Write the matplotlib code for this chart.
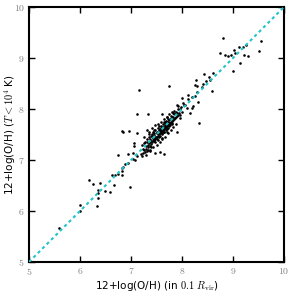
#!/usr/bin/python3

import matplotlib
matplotlib.use("Agg")
import matplotlib.pyplot as plt
from matplotlib.ticker import FuncFormatter

# Metallicity: within 0.1 Rvir (x) vs. cold gas T < 1e4 K (y)
x_sparse = [5.58, 6.00, 6.00, 6.33, 6.18, 6.26, 6.40, 6.36, 6.36, 6.49, 6.59, 6.67, 6.36, 6.98,
            6.63, 6.69, 6.74, 6.82, 6.82, 6.75, 6.95, 7.03, 7.03, 7.08, 7.11, 6.95, 6.88, 6.85, 6.82,
            7.75, 7.16, 8.29, 7.11, 8.34, 6.83, 6.85, 6.97, 7.11, 7.06, 7.05, 7.21, 7.90, 7.34, 7.31, 7.60,
            8.81, 9.54, 9.50, 9.12, 9.20, 9.25, 9.30, 9.22, 9.01, 9.04, 8.75, 8.84, 8.91, 8.97, 9.14, 8.99,
            8.44, 8.61, 8.59, 8.27, 8.25, 8.52, 8.55, 8.48, 8.42, 8.40, 8.29, 8.25, 8.31, 8.19, 8.12, 8.22,
            8.19, 7.90, 8.06, 8.16, 7.83, 7.99, 8.12, 8.09, 7.96, 7.80, 7.70, 7.67,
            7.65, 7.57, 7.47, 7.37, 7.31, 7.24]
y_sparse = [5.66, 6.12, 6.00, 6.10, 6.60, 6.52, 6.55, 6.41, 6.36, 6.39, 6.37, 6.50, 6.25, 6.47,
            6.71, 6.71, 6.72, 6.70, 6.78, 7.10, 7.12, 7.14, 7.01, 7.00, 7.08, 6.95, 6.92, 6.87, 6.84,
            8.45, 8.37, 8.45, 7.90, 7.72, 7.57, 7.54, 7.57, 7.52, 7.33, 7.28, 7.07, 7.55, 7.91, 7.59, 7.91,
            9.39, 9.33, 9.14, 9.22, 9.22, 9.25, 9.04, 9.06, 9.16, 9.09, 9.10, 9.06, 9.03, 9.06, 8.90, 8.75,
            8.68, 8.70, 8.35, 8.56, 8.47, 8.63, 8.57, 8.54, 8.49, 8.44, 8.34, 8.26, 8.14, 8.24, 8.20, 8.05,
            8.01, 8.08, 8.08, 7.93, 7.93, 8.21, 8.27, 8.01, 7.88, 7.95, 7.85, 7.75,
            7.12, 7.16, 7.13, 7.20, 7.18, 7.13]

x_dense = [7.22, 7.25, 7.28, 7.30, 7.32, 7.33, 7.35, 7.36, 7.38, 7.39, 7.40, 7.41, 7.42, 7.43, 7.44,
           7.45, 7.46, 7.47, 7.48, 7.49, 7.50, 7.51, 7.52, 7.53, 7.54, 7.55, 7.56, 7.57, 7.58, 7.59,
           7.60, 7.61, 7.62, 7.63, 7.64, 7.65, 7.66, 7.67, 7.68, 7.69, 7.70, 7.71, 7.72, 7.73, 7.74,
           7.75, 7.76, 7.77, 7.78, 7.79, 7.80, 7.81, 7.82, 7.84, 7.86, 7.88, 7.90, 7.92, 7.95, 7.98,
           7.20, 7.26, 7.29, 7.31, 7.34, 7.37, 7.38, 7.40, 7.42, 7.43, 7.45, 7.46, 7.47, 7.48, 7.50,
           7.51, 7.52, 7.53, 7.54, 7.55, 7.56, 7.58, 7.59, 7.60, 7.61, 7.62, 7.63, 7.64, 7.66, 7.67,
           7.68, 7.69, 7.70, 7.71, 7.72, 7.73, 7.74, 7.76, 7.77, 7.78, 7.80, 7.81, 7.83, 7.85, 7.87,
           7.89, 7.91, 7.93, 7.96, 8.00, 8.03,
           7.25, 7.30, 7.35, 7.38, 7.42, 7.44, 7.48, 7.50, 7.53, 7.56, 7.58, 7.61, 7.64, 7.66, 7.70,
           7.72, 7.75, 7.78, 7.82, 7.85, 7.88, 7.93, 7.97, 8.02, 7.45, 7.52, 7.57, 7.62, 7.67, 7.72,
           7.46, 7.55, 7.60, 7.65, 7.70, 7.40, 7.36, 7.33, 7.28, 7.23]
y_dense = [7.30, 7.20, 7.36, 7.27, 7.41, 7.30, 7.46, 7.33, 7.28, 7.47, 7.37, 7.50, 7.35, 7.44, 7.55,
           7.38, 7.49, 7.42, 7.58, 7.46, 7.41, 7.55, 7.48, 7.62, 7.50, 7.45, 7.60, 7.53, 7.66, 7.55,
           7.50, 7.64, 7.58, 7.70, 7.60, 7.55, 7.69, 7.63, 7.77, 7.66, 7.60, 7.74, 7.68, 7.81, 7.70,
           7.66, 7.80, 7.73, 7.86, 7.75, 7.70, 7.84, 7.78, 7.90, 7.82, 7.95, 7.86, 8.00, 7.92, 8.03,
           7.12, 7.34, 7.22, 7.35, 7.25, 7.42, 7.36, 7.31, 7.47, 7.39, 7.52, 7.40, 7.45, 7.36, 7.53,
           7.46, 7.40, 7.51, 7.58, 7.52, 7.47, 7.57, 7.62, 7.56, 7.52, 7.65, 7.61, 7.55, 7.62, 7.72,
           7.64, 7.58, 7.72, 7.67, 7.62, 7.75, 7.79, 7.72, 7.68, 7.81, 7.77, 7.73, 7.85, 7.80, 7.90,
           7.84, 7.93, 7.88, 7.99, 7.95, 8.08,
           7.45, 7.10, 7.55, 7.18, 7.62, 7.25, 7.68, 7.30, 7.70, 7.36, 7.75, 7.42, 7.80, 7.46, 7.85,
           7.52, 7.90, 7.58, 7.65, 7.96, 7.70, 8.06, 7.82, 8.12, 7.46, 7.54, 7.58, 7.61, 7.66, 7.73,
           7.58, 7.66, 7.44, 7.75, 7.55, 7.25, 7.50, 7.20, 7.15, 7.22]

one_to_one = [5, 10]
ticks = [5, 6, 7, 8, 9, 10]

plt.rcParams["mathtext.fontset"] = "cm"

fig = plt.figure(figsize=(2.91, 2.91), dpi=100)
ax = fig.add_axes([0.0997, 0.0997, 0.8763, 0.8763])

# 1:1 line
ax.plot(one_to_one, one_to_one, color="#22c4c8", lw=1.5, ls=(0, (1.5, 1.5)), zorder=3)

# Points
ax.scatter(x_sparse + x_dense, y_sparse + y_dense, s=3.5, c="black", lw=0, zorder=2)

ax.set_xlim(5, 10)
ax.set_ylim(5, 10)
ax.set_xticks(ticks)
ax.set_yticks(ticks)
fmt = FuncFormatter(lambda v, p: "$%d$" % v)
ax.xaxis.set_major_formatter(fmt)
ax.yaxis.set_major_formatter(fmt)
ax.tick_params(direction="in", top=True, right=True, length=4, width=1,
               labelsize=7, labelcolor="#808080", pad=3)
for s in ax.spines.values():
    s.set_linewidth(1.5)

ax.set_xlabel(r"12+log(O/H) (in $0.1\ R_{\rm vir}$)", fontsize=7.5, labelpad=1)
ax.set_ylabel(r"12+log(O/H) ($T<10^4$ K)", fontsize=7.5)
ax.yaxis.set_label_coords(-0.045, 0.5)

fig.savefig("out.png", dpi=100)
